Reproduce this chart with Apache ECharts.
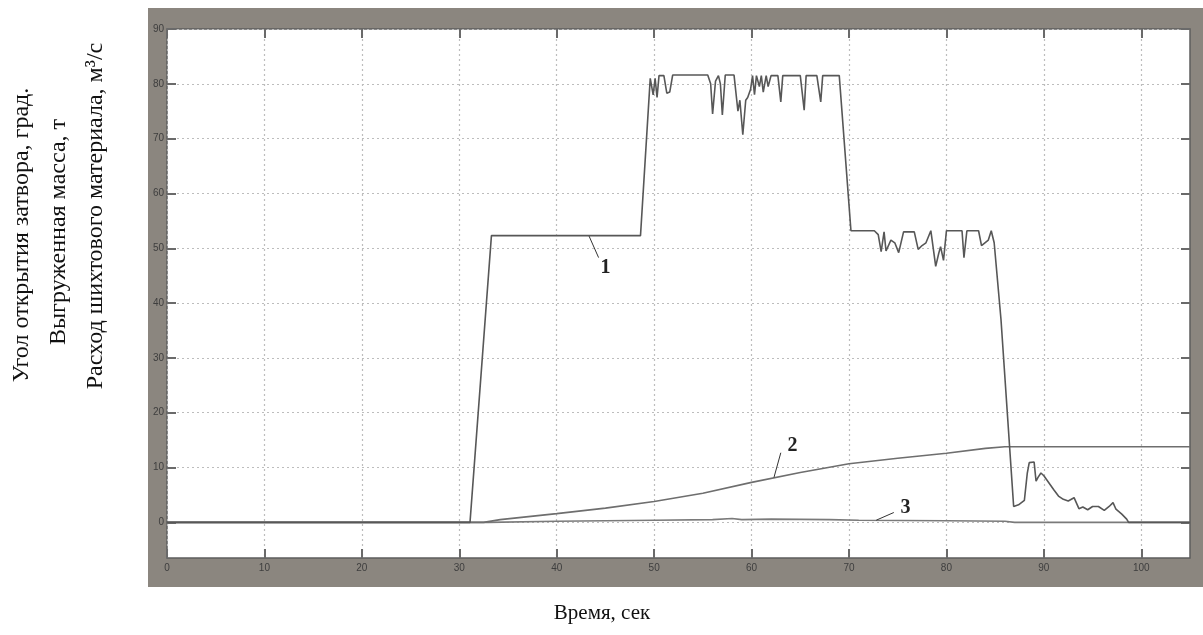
<!DOCTYPE html>
<html><head><meta charset="utf-8">
<script src="https://cdn.jsdelivr.net/npm/echarts@6/dist/echarts.min.js"></script>
<style>html,body{margin:0;padding:0;background:#fff}#c{width:1203px;height:635px}</style>
</head><body><div id="c"></div>
<script>
// ---- data ----
const yTicks = [0,10,20,30,40,50,60,70,80,90];
const xTicks = [0,10,20,30,40,50,60,70,80,90,100];
const angleT = [0,31.1,33.3,48.6,49.6,49.9,50.1,50.3,50.5,51.0,51.3,51.6,51.9,55.5,55.8,56.0,56.3,56.6,56.8,57.0,57.3,58.2,58.6,58.8,59.1,59.4,59.6,59.9,60.1,60.3,60.5,60.8,61.0,61.2,61.5,61.7,62.0,62.7,63.0,63.2,65.0,65.4,65.6,66.7,67.1,67.3,69.0,70.2,72.6,73.0,73.3,73.6,73.8,74.3,74.7,75.1,75.6,76.1,76.7,77.1,77.5,77.9,78.4,78.9,79.2,79.4,79.7,80.0,81.6,81.8,82.1,83.3,83.6,84.3,84.6,84.9,85.6,86.9,87.4,88.0,88.3,88.5,89.0,89.2,89.4,89.7,90.0,90.4,91.0,91.5,92.0,92.5,93.1,93.6,94.0,94.5,95.0,95.6,96.2,96.7,97.1,97.4,98.0,98.5,98.7,105];
const angleV = [0,0,52.3,52.3,81.0,78,81,77.5,81.5,81.5,78.3,78.5,81.6,81.6,80,74.5,80.5,81.5,80,74.3,81.6,81.6,75,77,70.7,77,77.5,79,81.5,78,81.5,79.5,81.5,78.5,81.5,79.5,81.5,81.5,76.7,81.5,81.5,75.2,81.5,81.5,76.7,81.5,81.5,53.2,53.2,52.5,49.4,53,49.5,51.5,51,49.2,53,53,53,49.8,50.5,51,53.2,46.7,49,50.3,47.8,53.2,53.2,48.3,53.2,53.2,50.5,51.5,53.2,51,37,2.9,3.2,4,9,10.9,11,7.5,8.2,9,8.5,7.5,6.0,4.8,4.2,3.9,4.5,2.5,2.8,2.3,2.9,2.9,2.2,2.9,3.6,2.4,1.5,0.6,0,0];
const massT = [0,32.5,34.2,40,45,50,55,60,65,70,75,80,84,86,105];
const massV = [0,0,0.5,1.6,2.6,3.8,5.3,7.3,9.1,10.7,11.7,12.6,13.5,13.8,13.8];
const flowT = [0,33,40,50,56,58,59,62,68,71,80,86,87,105];
const flowV = [0,0,0.2,0.4,0.5,0.7,0.5,0.6,0.5,0.4,0.3,0.2,0,0];
const yTitles = ['Угол открытия затвора, град.','Выгруженная масса, т','Расход шихтового материала, м³/с'];
const xTitle = 'Время, сек';
const curveLabels = ['1','2','3'];

const zip = (a,b)=>a.map((v,i)=>[v,b[i]]);
const tickStyle = {show:true, inside:true, length:9, lineStyle:{color:'#6a6a6a', width:2}};
const chart = echarts.init(document.getElementById('c'), null, {renderer:'canvas'});
const numLabel = (txt)=>({show:true, formatter:txt, color:'#222', fontFamily:'Liberation Serif', fontWeight:'bold', fontSize:20});
const gridLine = {show:true, lineStyle:{color:'#bdbdbd', type:[2,3], width:1.2}};

chart.setOption({
  animation:false,
  backgroundColor:'#fff',
  graphic:[
    {type:'rect', z:-10, shape:{x:148,y:8,width:1055,height:579}, style:{fill:'#8b867f'}},
    {type:'text', x:22, y:235, rotation:Math.PI/2, style:{text:yTitles[0], font:'24px "Liberation Serif"', fill:'#111', align:'center', verticalAlign:'middle'}},
    {type:'text', x:59, y:232, rotation:Math.PI/2, style:{text:yTitles[1], font:'24px "Liberation Serif"', fill:'#111', align:'center', verticalAlign:'middle'}},
    {type:'text', x:96, y:216, rotation:Math.PI/2, style:{text:yTitles[2], font:'24px "Liberation Serif"', fill:'#111', align:'center', verticalAlign:'middle'}},
    {type:'text', x:602, y:613, style:{text:xTitle, font:'21px "Liberation Serif"', fill:'#111', align:'center', verticalAlign:'middle'}}
  ],
  grid:{left:167, top:29, right:13, bottom:77, show:true, backgroundColor:'#fff', borderColor:'#5e5e5e', borderWidth:1.5},
  xAxis:[
    {type:'value', min:0, max:105, position:'bottom',
     axisLine:{show:false, onZero:false}, axisTick:Object.assign({customValues:xTicks}, tickStyle),
     axisLabel:{color:'#3e3e3e', fontSize:10, margin:5, customValues:xTicks},
     splitLine:gridLine},
    {type:'value', min:0, max:105, position:'top',
     axisLine:{show:false, onZero:false}, axisTick:Object.assign({customValues:xTicks}, tickStyle),
     axisLabel:{show:false, customValues:xTicks}, splitLine:{show:false}}
  ],
  yAxis:[
    {type:'value', min:-6.5, max:90, position:'left',
     axisLine:{show:false, onZero:false}, axisTick:Object.assign({customValues:yTicks}, tickStyle),
     axisLabel:{color:'#3e3e3e', fontSize:10, margin:3, customValues:yTicks},
     splitLine:gridLine},
    {type:'value', min:-6.5, max:90, position:'right',
     axisLine:{show:false, onZero:false}, axisTick:Object.assign({customValues:yTicks}, tickStyle),
     axisLabel:{show:false, customValues:yTicks}, splitLine:{show:false}}
  ],
  series:[
    {type:'line', name:'angle', data:zip(angleT,angleV), showSymbol:false, symbol:'none',
     lineStyle:{color:'#575757', width:1.6}, z:5,
     markLine:{silent:true, symbol:'none', lineStyle:{color:'#333', width:1, type:'solid'}, label:{show:false},
       data:[[{coord:[43.3,52.3]},{coord:[44.3,48.3]}]]},
     markPoint:{symbol:'circle', symbolSize:0, data:[{coord:[45.0,46.5], label:numLabel(curveLabels[0])}]}},
    {type:'line', name:'mass', data:zip(massT,massV), showSymbol:false, symbol:'none',
     lineStyle:{color:'#6e6e6e', width:1.6}, z:4,
     markLine:{silent:true, symbol:'none', lineStyle:{color:'#333', width:1, type:'solid'}, label:{show:false},
       data:[[{coord:[62.3,8.2]},{coord:[63.0,12.7]}]]},
     markPoint:{symbol:'circle', symbolSize:0, data:[{coord:[64.2,14.0], label:numLabel(curveLabels[1])}]}},
    {type:'line', name:'flow', data:zip(flowT,flowV), showSymbol:false, symbol:'none',
     lineStyle:{color:'#7a7a7a', width:1.6}, z:3,
     markLine:{silent:true, symbol:'none', lineStyle:{color:'#333', width:1, type:'solid'}, label:{show:false},
       data:[[{coord:[72.8,0.4]},{coord:[74.6,1.8]}]]},
     markPoint:{symbol:'circle', symbolSize:0, data:[{coord:[75.8,2.6], label:numLabel(curveLabels[2])}]}}
  ]
});
</script></body></html>
